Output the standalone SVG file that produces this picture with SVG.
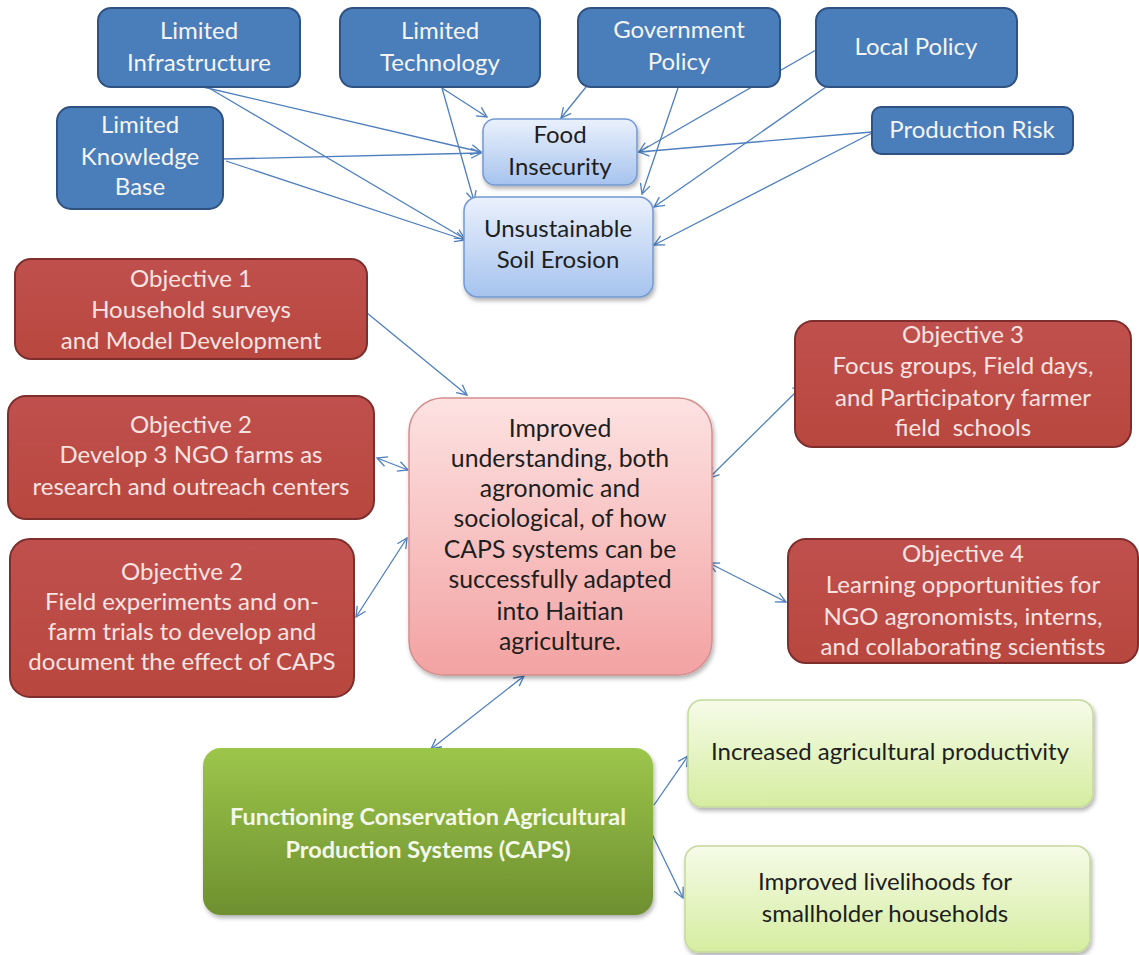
<svg xmlns="http://www.w3.org/2000/svg" width="1139" height="955" viewBox="0 0 1139 955">
<defs>
  <style>
    text { font-family: Lato, "Open Sans", "Liberation Sans", sans-serif; text-anchor: middle; }
    .blue { fill: #4A7EBB; stroke: #2F5280; stroke-width: 2; }
    .red { fill: url(#gRed); stroke: #7E2F2D; stroke-width: 2; }
    .tw { fill: #F4F4F4; font-size: 24px; }
    .tr { fill: #F6E3E2; font-size: 24px; }
    .tk { fill: #1E1E1E; font-size: 24px; }
    .tp { fill: #1E1E1E; font-size: 24.8px; }
    .tg { fill: #F4F8EA; font-size: 23.5px; font-weight: bold; }
    .conn { fill: none; stroke: #4F7FBF; stroke-width: 1.3; }
    .sh { filter: url(#shadow); }
  </style>
  <linearGradient id="gRed" x1="0" y1="0" x2="0" y2="1">
    <stop offset="0" stop-color="#C0504D"/>
    <stop offset="1" stop-color="#B8473F"/>
  </linearGradient>
  <linearGradient id="gLB" x1="0" y1="0" x2="0" y2="1">
    <stop offset="0" stop-color="#EAF1FC"/>
    <stop offset="1" stop-color="#A6C3EE"/>
  </linearGradient>
  <linearGradient id="gPink" x1="0" y1="0" x2="0" y2="1">
    <stop offset="0" stop-color="#FDE2E2"/>
    <stop offset="1" stop-color="#F3A2A2"/>
  </linearGradient>
  <linearGradient id="gGreen" x1="0" y1="0" x2="0" y2="1">
    <stop offset="0" stop-color="#9CC64B"/>
    <stop offset="1" stop-color="#6E8F2F"/>
  </linearGradient>
  <linearGradient id="gLG" x1="0" y1="0" x2="0" y2="1">
    <stop offset="0" stop-color="#F6FBE8"/>
    <stop offset="1" stop-color="#D5EDA0"/>
  </linearGradient>
  <filter id="shadow" x="-10%" y="-10%" width="130%" height="140%">
    <feDropShadow dx="1.5" dy="3" stdDeviation="2" flood-color="#000" flood-opacity="0.3"/>
  </filter>
  <marker id="arr" viewBox="0 0 12 12" refX="11" refY="6" markerWidth="12" markerHeight="12" markerUnits="userSpaceOnUse" orient="auto-start-reverse">
    <path d="M1,1 L11,6 L1,11" fill="none" stroke="#4F7FBF" stroke-width="1.3"/>
  </marker>
</defs>
<rect width="1139" height="955" fill="#FFFFFF"/>

<g id="connectors">
  <path class="conn" d="M203,87 L481,152" marker-end="url(#arr)"/>
  <path class="conn" d="M209,88 L465,239" marker-end="url(#arr)"/>
  <path class="conn" d="M442,88 L487,117" marker-end="url(#arr)"/>
  <path class="conn" d="M442,88 L474,201" marker-end="url(#arr)"/>
  <path class="conn" d="M223,159 L481,153" marker-end="url(#arr)"/>
  <path class="conn" d="M226,161 L465,240" marker-end="url(#arr)"/>
  <path class="conn" d="M586,87 L561,118" marker-end="url(#arr)"/>
  <path class="conn" d="M678,88 L642,194" marker-end="url(#arr)"/>
  <path class="conn" d="M816,50 L639,152" marker-end="url(#arr)"/>
  <path class="conn" d="M826,87 L654,207" marker-end="url(#arr)"/>
  <path class="conn" d="M872,132 L639,152" marker-end="url(#arr)"/>
  <path class="conn" d="M872,133 L654,245" marker-end="url(#arr)"/>
  <path class="conn" d="M367,313 L467,395" marker-end="url(#arr)"/>
  <path class="conn" d="M377,458 L408,470" marker-start="url(#arr)" marker-end="url(#arr)"/>
  <path class="conn" d="M356,617 L407,538" marker-start="url(#arr)" marker-end="url(#arr)"/>
  <path class="conn" d="M803,385 L709,478" marker-start="url(#arr)" marker-end="url(#arr)"/>
  <path class="conn" d="M709,563 L786,602" marker-start="url(#arr)" marker-end="url(#arr)"/>
  <path class="conn" d="M524,676 L431,749" marker-start="url(#arr)" marker-end="url(#arr)"/>
  <path class="conn" d="M654,805 L688,756" marker-end="url(#arr)"/>
  <path class="conn" d="M651,832 L683,898" marker-end="url(#arr)"/>
</g>

<g id="limited-infrastructure">
  <rect class="blue" x="98" y="8" width="202" height="79" rx="13"/>
  <text class="tw" x="199" y="39">Limited</text>
  <text class="tw" x="199" y="71">Infrastructure</text>
</g>
<g id="limited-technology">
  <rect class="blue" x="340" y="8" width="200" height="79" rx="13"/>
  <text class="tw" x="440" y="39">Limited</text>
  <text class="tw" x="440" y="71">Technology</text>
</g>
<g id="government-policy">
  <rect class="blue" x="578" y="8" width="202" height="79" rx="13"/>
  <text class="tw" x="679" y="38">Government</text>
  <text class="tw" x="679" y="70">Policy</text>
</g>
<g id="local-policy">
  <rect class="blue" x="816" y="8" width="201" height="79" rx="13"/>
  <text class="tw" x="916" y="55">Local Policy</text>
</g>
<g id="production-risk">
  <rect class="blue" x="872" y="107" width="201" height="47" rx="9"/>
  <text class="tw" x="972" y="138">Production Risk</text>
</g>
<g id="limited-knowledge-base">
  <rect class="blue" x="57" y="107" width="166" height="102" rx="14"/>
  <text class="tw" x="140" y="133">Limited</text>
  <text class="tw" x="140" y="165">Knowledge</text>
  <text class="tw" x="140" y="195">Base</text>
</g>
<g id="food-insecurity">
  <rect class="sh" x="483" y="119" width="154" height="66" rx="12" fill="url(#gLB)" stroke="#7399D2" stroke-width="1.5"/>
  <text class="tk" x="560" y="143">Food</text>
  <text class="tk" x="560" y="175">Insecurity</text>
</g>
<g id="unsustainable-soil-erosion">
  <rect class="sh" x="464" y="197" width="189" height="100" rx="14" fill="url(#gLB)" stroke="#7399D2" stroke-width="1.5"/>
  <text class="tk" x="558" y="237">Unsustainable</text>
  <text class="tk" x="558" y="268">Soil Erosion</text>
</g>

<g id="objective-1">
  <rect class="red" x="15" y="259" width="352" height="100" rx="16"/>
  <text class="tr" x="191" y="287">Objective 1</text>
  <text class="tr" x="191" y="318">Household surveys</text>
  <text class="tr" x="191" y="349">and Model Development</text>
</g>
<g id="objective-2a">
  <rect class="red" x="8" y="396" width="366" height="123" rx="18"/>
  <text class="tr" x="191" y="433">Objective 2</text>
  <text class="tr" x="191" y="463">Develop 3 NGO farms as</text>
  <text class="tr" x="191" y="495">research and outreach centers</text>
</g>
<g id="objective-2b">
  <rect class="red" x="10" y="539" width="344" height="158" rx="20"/>
  <text class="tr" x="182" y="580">Objective 2</text>
  <text class="tr" x="182" y="610">Field experiments and on-</text>
  <text class="tr" x="182" y="640">farm trials to develop and</text>
  <text class="tr" x="182" y="670">document the effect of CAPS</text>
</g>
<g id="objective-3">
  <rect class="red" x="795" y="321" width="336" height="126" rx="18"/>
  <text class="tr" x="963" y="343">Objective 3</text>
  <text class="tr" x="963" y="374">Focus groups, Field days,</text>
  <text class="tr" x="963" y="406">and Participatory farmer</text>
  <text class="tr" x="963" y="436" xml:space="preserve">field  schools</text>
</g>
<g id="objective-4">
  <rect class="red" x="788" y="539" width="350" height="124" rx="18"/>
  <text class="tr" x="963" y="562">Objective 4</text>
  <text class="tr" x="963" y="593">Learning opportunities for</text>
  <text class="tr" x="963" y="625">NGO agronomists, interns,</text>
  <text class="tr" x="963" y="655">and collaborating scientists</text>
</g>

<g id="improved-understanding">
  <rect class="sh" x="409" y="398" width="303" height="277" rx="34" fill="url(#gPink)" stroke="#D38F8D" stroke-width="1.5"/>
  <text class="tp" x="560" y="437">Improved</text>
  <text class="tp" x="560" y="467">understanding, both</text>
  <text class="tp" x="560" y="497">agronomic and</text>
  <text class="tp" x="560" y="527">sociological, of how</text>
  <text class="tp" x="560" y="558">CAPS systems can be</text>
  <text class="tp" x="560" y="588">successfully adapted</text>
  <text class="tp" x="560" y="620">into Haitian</text>
  <text class="tp" x="560" y="650">agriculture.</text>
</g>

<g id="caps">
  <rect class="sh" x="203" y="748" width="450" height="167" rx="18" fill="url(#gGreen)"/>
  <text class="tg" x="428" y="825">Functioning Conservation Agricultural</text>
  <text class="tg" x="428" y="858">Production Systems (CAPS)</text>
</g>

<g id="increased-productivity">
  <rect class="sh" x="688" y="700" width="405" height="107" rx="14" fill="url(#gLG)" stroke="#C5D99C" stroke-width="1.5"/>
  <text class="tk" x="890" y="760">Increased agricultural productivity</text>
</g>
<g id="improved-livelihoods">
  <rect class="sh" x="685" y="846" width="405" height="106" rx="14" fill="url(#gLG)" stroke="#C5D99C" stroke-width="1.5"/>
  <text class="tk" x="885" y="890">Improved livelihoods for</text>
  <text class="tk" x="885" y="922">smallholder households</text>
</g>
</svg>
